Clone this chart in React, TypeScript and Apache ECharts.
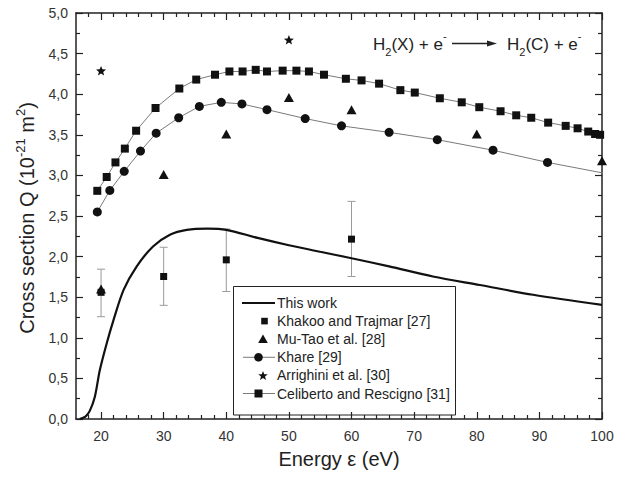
import React, { useEffect, useRef } from 'react';
import * as echarts from 'echarts';

// ---------- data ----------
const thisWorkX = [16.6, 17.5, 18.2, 19.0, 19.8, 20.9, 22.0, 23.6, 25.7, 28.3, 31.0, 33.7, 37.0, 40.0, 45.0, 50.0, 55.0, 60.0, 66.0, 73.0, 80.5, 89.0, 100];
const thisWorkY = [0, 0.03, 0.1, 0.27, 0.6, 0.93, 1.22, 1.59, 1.88, 2.125, 2.27, 2.33, 2.345, 2.33, 2.23, 2.14, 2.06, 1.98, 1.88, 1.755, 1.65, 1.53, 1.405];

const khakooX = [20, 30, 40, 60];
const khakooY = [1.56, 1.755, 1.96, 2.215];
const khakooLow = [1.26, 1.40, 1.57, 1.755];
const khakooHigh = [1.845, 2.115, 2.34, 2.68];

const muTaoX = [20, 30, 40, 50, 60, 80, 100];
const muTaoY = [1.6, 3.01, 3.51, 3.96, 3.81, 3.51, 3.18];

const khareX = [19.4, 21.4, 23.7, 26.3, 28.8, 32.4, 35.7, 39.2, 42.5, 46.5, 52.6, 58.4, 66.0, 73.7, 82.6, 91.3, 101.5];
const khareY = [2.55, 2.815, 3.05, 3.30, 3.52, 3.71, 3.85, 3.90, 3.88, 3.81, 3.70, 3.61, 3.53, 3.44, 3.31, 3.16, 3.01];

const arrighiniX = [20, 50];
const arrighiniY = [4.29, 4.67];

const celibertoX = [19.4, 20.9, 22.3, 23.8, 25.6, 28.7, 32.5, 35.2, 38.2, 40.5, 42.6, 44.7, 46.5, 49.0, 51.2, 53.2, 55.6, 59.1, 61.6, 64.4, 67.8, 70.1, 74.1, 77.6, 80.4, 83.8, 86.3, 88.7, 91.4, 94.2, 96.1, 97.8, 98.9, 99.7];
const celibertoY = [2.81, 2.98, 3.16, 3.33, 3.55, 3.83, 4.07, 4.18, 4.24, 4.28, 4.28, 4.30, 4.28, 4.29, 4.29, 4.28, 4.24, 4.19, 4.17, 4.13, 4.05, 4.02, 3.95, 3.90, 3.84, 3.79, 3.74, 3.71, 3.65, 3.61, 3.58, 3.54, 3.51, 3.50];

const xMajorTicks = [20, 30, 40, 50, 60, 70, 80, 90, 100];
const xMinorTicks = [18, 22, 24, 26, 28, 32, 34, 36, 38, 42, 44, 46, 48, 52, 54, 56, 58, 62, 64, 66, 68, 72, 74, 76, 78, 82, 84, 86, 88, 92, 94, 96, 98];

const legendNames = [
  'This work',
  'Khakoo and Trajmar [27]',
  'Mu-Tao et al. [28]',
  'Khare [29]',
  'Arrighini et al. [30]',
  'Celiberto and Rescigno [31]',
];

// ---------- helpers ----------
const FONT = '"Liberation Sans", Arial, Helvetica, sans-serif';
const BLACK = '#111';
const GRAY_LINE = '#7a7a7a';
const STAR_PATH =
  'path://M0,-10 L2.6,-3.4 L9.51,-3.09 L4.1,1.4 L5.88,8.09 L0,4.3 L-5.88,8.09 L-4.1,1.4 L-9.51,-3.09 L-2.6,-3.4 Z';

const pairs = (xs: number[], ys: number[]) => xs.map((x, i) => [x, ys[i]]);

function starPoints(cx: number, cy: number, R: number) {
  const pts: number[][] = [];
  for (let k = 0; k < 10; k++) {
    const r = k % 2 === 0 ? R : R * 0.43;
    const a = (-90 + k * 36) * Math.PI / 180;
    pts.push([cx + r * Math.cos(a), cy + r * Math.sin(a)]);
  }
  return pts;
}

function buildLegend() {
  const x0 = 233.5, y0 = 286.5, w = 222, h = 128.5;
  const rowY0 = 303, rowGap = 18.1;
  const textX = 277;
  const children: any[] = [
    { type: 'rect', shape: { x: x0, y: y0, width: w, height: h }, style: { fill: '#fff', stroke: '#222', lineWidth: 1 } },
  ];
  legendNames.forEach((name, i) => {
    const cy = rowY0 + i * rowGap;
    if (i === 0) {
      children.push({ type: 'line', shape: { x1: 242, y1: cy, x2: 275, y2: cy }, style: { stroke: BLACK, lineWidth: 2 } });
    } else if (i === 1) {
      children.push({ type: 'rect', shape: { x: 264.5 - 3.3, y: cy - 3.3, width: 6.6, height: 6.6 }, style: { fill: BLACK } });
    } else if (i === 2) {
      children.push({ type: 'polygon', shape: { points: [[263, cy - 4.6], [267.8, cy + 3.8], [258.2, cy + 3.8]] }, style: { fill: BLACK } });
    } else if (i === 3) {
      children.push({ type: 'line', shape: { x1: 243, y1: cy, x2: 275, y2: cy }, style: { stroke: GRAY_LINE, lineWidth: 1 } });
      children.push({ type: 'circle', shape: { cx: 258.5, cy, r: 4.3 }, style: { fill: BLACK } });
    } else if (i === 4) {
      children.push({ type: 'polygon', shape: { points: starPoints(263, cy + 0.5, 5) }, style: { fill: BLACK } });
    } else if (i === 5) {
      children.push({ type: 'line', shape: { x1: 243, y1: cy, x2: 275, y2: cy }, style: { stroke: GRAY_LINE, lineWidth: 1 } });
      children.push({ type: 'rect', shape: { x: 258.5 - 4, y: cy - 4, width: 8, height: 8 }, style: { fill: BLACK } });
    }
    children.push({
      type: 'text',
      x: textX,
      y: cy,
      style: { text: name, fill: '#222', font: `14px ${FONT}`, textAlign: 'left', textVerticalAlign: 'middle' },
    });
  });
  return { type: 'group', z: 50, children };
}

export default function App() {
  const ref = useRef<HTMLDivElement>(null);

  useEffect(() => {
    if (!ref.current) return;
    const chart = echarts.init(ref.current, undefined, { renderer: 'svg' });

    const axisLineStyle = { color: '#222', width: 1.5 };
    const baseX = { type: 'value', min: 16, max: 100, splitLine: { show: false } };
    const baseY = { type: 'value', min: 0, max: 5, interval: 0.5, splitLine: { show: false }, minorSplitLine: { show: false } };

    const subRich = { fontSize: 11, lineHeight: 11, verticalAlign: 'bottom', fontFamily: FONT, fill: '#222' };
    const supRich = { fontSize: 11, lineHeight: 11, verticalAlign: 'top', fontFamily: FONT, fill: '#222' };
    const mainRich = { fontSize: 17, lineHeight: 27, fontFamily: FONT, fill: '#222' };
    const solid = { color: BLACK, opacity: 1 };

    const option: any = {
      animation: false,
      backgroundColor: '#fff',
      textStyle: { fontFamily: FONT },
      grid: { left: 76, right: 25, top: 13, bottom: 67, containLabel: false },
      xAxis: [
        {
          ...baseX,
          position: 'bottom',
          axisLine: { show: true, onZero: false, lineStyle: axisLineStyle },
          axisTick: { show: true, inside: true, length: 7, customValues: xMajorTicks, lineStyle: { color: '#222', width: 1.2 } },
          axisLabel: { show: true, customValues: xMajorTicks, fontSize: 14, color: '#333', margin: 10, fontFamily: FONT },
        },
        {
          ...baseX,
          position: 'bottom',
          axisLine: { show: false, onZero: false },
          axisTick: { show: true, inside: true, length: 4, customValues: xMinorTicks, lineStyle: { color: '#222', width: 1.2 } },
          axisLabel: { show: false },
        },
        {
          ...baseX,
          position: 'top',
          axisLine: { show: true, onZero: false, lineStyle: axisLineStyle },
          axisTick: { show: true, inside: true, length: 7, customValues: xMajorTicks, lineStyle: { color: '#222', width: 1.2 } },
          axisLabel: { show: false },
        },
        {
          ...baseX,
          position: 'top',
          axisLine: { show: false, onZero: false },
          axisTick: { show: true, inside: true, length: 4, customValues: xMinorTicks, lineStyle: { color: '#222', width: 1.2 } },
          axisLabel: { show: false },
        },
      ],
      yAxis: [
        {
          ...baseY,
          position: 'left',
          axisLine: { show: true, onZero: false, lineStyle: axisLineStyle },
          axisTick: { show: true, inside: true, length: 7, lineStyle: { color: '#222', width: 1.2 } },
          minorTick: { show: true, splitNumber: 2, length: 4, lineStyle: { color: '#222', width: 1.2 } },
          axisLabel: {
            show: true, fontSize: 14, color: '#333', margin: 8, fontFamily: FONT,
            formatter: (v: number) => v.toFixed(1).replace('.', ','),
          },
        },
        {
          ...baseY,
          position: 'right',
          axisLine: { show: true, onZero: false, lineStyle: axisLineStyle },
          axisTick: { show: true, inside: true, length: 7, lineStyle: { color: '#222', width: 1.2 } },
          minorTick: { show: true, splitNumber: 2, length: 4, lineStyle: { color: '#222', width: 1.2 } },
          axisLabel: { show: false },
        },
      ],
      series: [
        {
          name: 'Khakoo error',
          type: 'custom',
          z: 1,
          data: khakooX.map((x, i) => [x, khakooLow[i], khakooHigh[i]]),
          encode: { x: 0, y: [1, 2] },
          renderItem: (params: any, api: any) => {
            const x = api.value(0);
            const lo = api.coord([x, api.value(1)]);
            const hi = api.coord([x, api.value(2)]);
            const c = 4;
            const st = { stroke: '#9a9a9a', lineWidth: 1 };
            return {
              type: 'group',
              children: [
                { type: 'line', shape: { x1: lo[0], y1: lo[1], x2: hi[0], y2: hi[1] }, style: st },
                { type: 'line', shape: { x1: lo[0] - c, y1: lo[1], x2: lo[0] + c, y2: lo[1] }, style: st },
                { type: 'line', shape: { x1: hi[0] - c, y1: hi[1], x2: hi[0] + c, y2: hi[1] }, style: st },
              ],
            };
          },
        },
        {
          name: legendNames[0],
          type: 'line',
          z: 3,
          data: pairs(thisWorkX, thisWorkY),
          smooth: 0.3,
          symbol: 'none',
          lineStyle: { color: BLACK, width: 2.2 },
        },
        {
          name: legendNames[1],
          type: 'scatter',
          z: 4,
          data: pairs(khakooX, khakooY),
          symbol: 'rect',
          symbolSize: 7,
          itemStyle: solid,
        },
        {
          name: legendNames[2],
          type: 'scatter',
          z: 4,
          data: pairs(muTaoX, muTaoY),
          symbol: 'triangle',
          symbolSize: [10, 9],
          itemStyle: solid,
        },
        {
          name: legendNames[3],
          type: 'line',
          z: 4,
          data: pairs(khareX, khareY),
          symbol: 'circle',
          symbolSize: 9,
          showAllSymbol: true,
          itemStyle: { color: BLACK, borderWidth: 0, opacity: 1 },
          lineStyle: { color: GRAY_LINE, width: 1 },
        },
        {
          name: legendNames[4],
          type: 'scatter',
          z: 4,
          data: pairs(arrighiniX, arrighiniY),
          symbol: STAR_PATH,
          symbolSize: 10,
          symbolKeepAspect: true,
          itemStyle: solid,
        },
        {
          name: legendNames[5],
          type: 'line',
          z: 4,
          data: pairs(celibertoX, celibertoY),
          symbol: 'rect',
          symbolSize: 8,
          showAllSymbol: true,
          itemStyle: { color: BLACK, borderWidth: 0, opacity: 1 },
          lineStyle: { color: GRAY_LINE, width: 1 },
        },
      ],
      graphic: [
        buildLegend(),
        {
          type: 'text',
          x: 339,
          y: 459,
          style: { text: 'Energy ε (eV)', font: `20px ${FONT}`, fill: '#222', textAlign: 'center', textVerticalAlign: 'middle' },
        },
        {
          type: 'text',
          x: 27,
          y: 218,
          rotation: Math.PI / 2,
          style: {
            text: '{a|Cross section Q (10}{s|-21}{a| m}{s|2}{a|)}',
            textAlign: 'center',
            textVerticalAlign: 'middle',
            rich: {
              a: { fontSize: 20, lineHeight: 26, fontFamily: FONT, fill: '#222' },
              s: { fontSize: 13, lineHeight: 13, verticalAlign: 'top', fontFamily: FONT, fill: '#222' },
            },
          },
        },
        {
          type: 'text',
          x: 373,
          y: 44,
          style: {
            text: '{m|H}{b|2}{m|(X) + e}{p|-}',
            textAlign: 'left',
            textVerticalAlign: 'middle',
            rich: { m: mainRich, b: subRich, p: supRich },
          },
        },
        {
          type: 'text',
          x: 507,
          y: 44,
          style: {
            text: '{m|H}{b|2}{m|(C) + e}{p|-}',
            textAlign: 'left',
            textVerticalAlign: 'middle',
            rich: { m: mainRich, b: subRich, p: supRich },
          },
        },
        {
          type: 'line',
          shape: { x1: 452, y1: 43.5, x2: 489, y2: 43.5 },
          style: { stroke: '#222', lineWidth: 1.3 },
        },
        {
          type: 'polygon',
          shape: { points: [[487, 40.5], [497, 43.5], [487, 46.5]] },
          style: { fill: '#222' },
        },
      ],
    };

    chart.setOption(option);
    return () => chart.dispose();
  }, []);

  return (
    <div
      ref={ref}
      style={{ position: 'fixed', left: 0, top: 0, width: 627, height: 486, background: '#fff' }}
    />
  );
}
